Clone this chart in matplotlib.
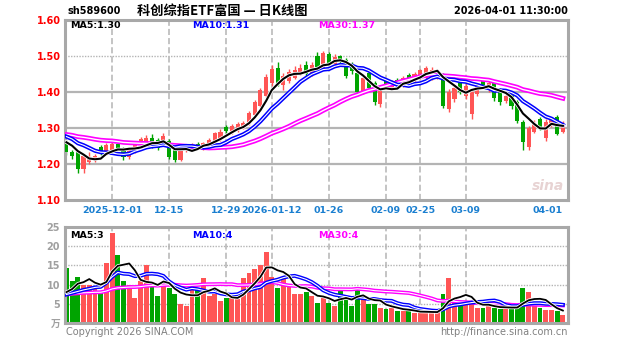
import matplotlib
matplotlib.use('Agg')
import matplotlib.pyplot as plt
import matplotlib.patheffects as pe
import numpy as np

code = "sh589600"
title = "科创综指ETF富国 — 日K线图"
timestamp = "2026-04-01 11:30:00"

opens = [1.262, 1.232, 1.236, 1.186, 1.205, 1.212, 1.248, 1.230, 1.240, 1.255,
         1.245, 1.220, 1.235, 1.252, 1.258, 1.272, 1.268, 1.255, 1.265, 1.248,
         1.212, 1.238, 1.245, 1.255, 1.246, 1.255, 1.262, 1.270, 1.302, 1.290,
         1.296, 1.305, 1.312, 1.335, 1.362, 1.390, 1.425, 1.468, 1.420, 1.430,
         1.440, 1.455, 1.475, 1.450, 1.500, 1.468, 1.505, 1.478, 1.500, 1.490,
         1.478, 1.452, 1.400, 1.452, 1.425, 1.368, 1.430, 1.412, 1.432, 1.420,
         1.448, 1.432, 1.440, 1.440, 1.438, 1.440, 1.448, 1.352, 1.380, 1.425,
         1.388, 1.340, 1.395, 1.430, 1.405, 1.425, 1.405, 1.375, 1.398, 1.372,
         1.318, 1.248, 1.290, 1.325, 1.272, 1.310, 1.330, 1.290]
highs = [1.268, 1.240, 1.240, 1.228, 1.232, 1.228, 1.252, 1.258, 1.262, 1.258,
         1.248, 1.248, 1.262, 1.275, 1.280, 1.282, 1.272, 1.285, 1.270, 1.252,
         1.255, 1.255, 1.258, 1.262, 1.262, 1.272, 1.290, 1.298, 1.308, 1.312,
         1.318, 1.320, 1.348, 1.378, 1.412, 1.450, 1.475, 1.482, 1.452, 1.465,
         1.472, 1.478, 1.485, 1.482, 1.510, 1.515, 1.512, 1.505, 1.502, 1.495,
         1.482, 1.458, 1.448, 1.458, 1.430, 1.418, 1.435, 1.432, 1.438, 1.445,
         1.452, 1.455, 1.465, 1.472, 1.470, 1.465, 1.452, 1.408, 1.418, 1.430,
         1.425, 1.412, 1.425, 1.435, 1.430, 1.430, 1.410, 1.395, 1.400, 1.378,
         1.322, 1.305, 1.322, 1.330, 1.325, 1.330, 1.335, 1.320]
lows = [1.225, 1.215, 1.176, 1.175, 1.200, 1.205, 1.225, 1.225, 1.236, 1.238,
        1.212, 1.215, 1.230, 1.248, 1.255, 1.245, 1.238, 1.250, 1.215, 1.205,
        1.208, 1.232, 1.240, 1.242, 1.240, 1.250, 1.258, 1.265, 1.285, 1.282,
        1.290, 1.298, 1.308, 1.330, 1.358, 1.385, 1.418, 1.418, 1.405, 1.425,
        1.435, 1.448, 1.442, 1.445, 1.462, 1.462, 1.475, 1.470, 1.478, 1.440,
        1.450, 1.395, 1.395, 1.408, 1.365, 1.358, 1.410, 1.408, 1.415, 1.415,
        1.428, 1.428, 1.435, 1.435, 1.432, 1.435, 1.355, 1.345, 1.372, 1.395,
        1.380, 1.325, 1.390, 1.412, 1.400, 1.375, 1.365, 1.370, 1.352, 1.315,
        1.240, 1.238, 1.285, 1.295, 1.265, 1.302, 1.280, 1.285]
closes = [1.232, 1.222, 1.185, 1.222, 1.215, 1.222, 1.230, 1.252, 1.256, 1.242,
          1.220, 1.242, 1.255, 1.270, 1.272, 1.250, 1.245, 1.278, 1.220, 1.212,
          1.250, 1.248, 1.252, 1.246, 1.258, 1.268, 1.285, 1.290, 1.292, 1.305,
          1.312, 1.315, 1.343, 1.372, 1.405, 1.442, 1.465, 1.425, 1.445, 1.455,
          1.462, 1.468, 1.450, 1.475, 1.470, 1.508, 1.480, 1.498, 1.485, 1.445,
          1.458, 1.400, 1.440, 1.412, 1.372, 1.412, 1.415, 1.428, 1.420, 1.440,
          1.432, 1.450, 1.460, 1.468, 1.462, 1.455, 1.362, 1.400, 1.410, 1.400,
          1.418, 1.400, 1.420, 1.418, 1.425, 1.382, 1.372, 1.390, 1.360, 1.320,
          1.260, 1.300, 1.315, 1.300, 1.318, 1.325, 1.282, 1.305]
volumes = [14.2, 11, 12, 10, 10, 9.5, 8.4, 15.5, 23.4, 17.6,
           11, 10, 6.6, 11, 15, 10, 7, 11, 9, 7.6,
           5, 4.5, 10, 9, 11.6, 7, 7.5, 5.8, 6.6, 6.5,
           6.3, 11.8, 13, 14, 15, 18.4, 12, 9.2, 11.8, 10,
           7.6, 7.6, 8, 7, 5.3, 6.6, 5.3, 4.5, 9.2, 7,
           4.5, 9, 6.3, 5, 5, 4, 3.7, 4, 3.2, 3.2,
           3.2, 2.6, 2.6, 3, 3, 3, 7.6, 11.6, 6.6, 5,
           5.8, 5, 4, 4, 5, 4, 3.7, 3.7, 3.7, 5,
           9.2, 8, 5.3, 4, 3.5, 3.5, 3.0, 2.2]

# closes / volumes of the 29 sessions before the visible window (MA warm-up)
prior_closes = [1.29, 1.30, 1.28, 1.29, 1.31, 1.30, 1.29, 1.28, 1.30, 1.29,
                1.27, 1.28, 1.29, 1.28, 1.27, 1.29, 1.28, 1.27, 1.26, 1.28,
                1.29, 1.30, 1.28, 1.29, 1.30, 1.27, 1.26, 1.27, 1.27]
prior_volumes = [7, 8, 6, 9, 7, 8, 6, 7, 9, 8,
                 7, 6, 8, 9, 7, 8, 7, 6, 8, 9,
                 7, 8, 6, 7, 6, 7, 5, 8, 6]

tick_idx = [8, 18, 28, 36, 46, 56, 62, 70, 87]
tick_labels = ["2025-12-01", "12-15", "12-29", "2026-01-12", "01-26",
               "02-09", "02-25", "03-09", "04-01"]
price_ticks = [1.10, 1.20, 1.30, 1.40, 1.50, 1.60]
price_tick_labels = ["1.10", "1.20", "1.30", "1.40", "1.50", "1.60"]
vol_ticks = [0, 5, 10, 15, 20, 25]
vol_tick_labels = ["万", "5", "10", "15", "20", "25"]
price_ma_labels = ["MA5:1.30", "MA10:1.31", "MA30:1.37"]
vol_ma_labels = ["MA5:3", "MA10:4", "MA30:4"]

RED = '#ff5555'
GREEN = '#00a400'
MA_COLORS = ['#000000', '#0000ff', '#ff00ff']
GRID = '#b4b4b4'
BORDER = '#a8a8a8'

plt.rcParams['font.family'] = ['DejaVu Sans', 'Noto Sans CJK SC']

def moving(prior, vals, n):
    full = np.array(list(prior) + list(vals), dtype=float)
    k = len(prior)
    return np.array([full[k + i - n + 1:k + i + 1].mean() for i in range(len(vals))])

def tube(col, outer, inner):
    return [pe.Stroke(linewidth=outer, foreground=col), pe.Stroke(linewidth=inner, foreground='white')]

o = np.array(opens); h = np.array(highs); l = np.array(lows); c = np.array(closes)
v = np.array(volumes)
x = np.arange(len(c))
up = c >= o
cols = np.where(up, RED, GREEN)

W, H = 627, 342
fig = plt.figure(figsize=(W / 100, H / 100), dpi=100)
fig.patch.set_facecolor('white')

def rect(l_, t_, r_, b_):
    return [l_ / W, 1 - b_ / H, (r_ - l_) / W, (b_ - t_) / H]

axp = fig.add_axes(rect(65, 20, 568, 200))
axv = fig.add_axes(rect(65, 227, 568, 323))

xl = (-0.25, 87.9)
for ax in (axp, axv):
    ax.set_xlim(*xl)
    for s in ax.spines.values():
        s.set_color(BORDER)
        s.set_linewidth(2.2)
    for t in tick_idx[:-1]:
        ax.axvline(t, color=GRID, lw=1.1, ls=(0, (4, 2)), zorder=0)
    ax.tick_params(length=0)

# price panel
axp.set_ylim(1.10, 1.60)
for yv in [1.20, 1.30, 1.40]:
    axp.axhline(yv, color=GRID, lw=1.6, zorder=0)
axp.axhline(1.50, color=GRID, lw=1.0, ls=(0, (1, 1)), zorder=0)
body_b = np.minimum(o, c)
body_h = np.maximum(np.abs(c - o), 0.002)
axp.vlines(x, l, h, colors=cols, lw=1.0, zorder=2)
axp.bar(x, body_h, bottom=body_b, width=0.72, color=cols, zorder=3, linewidth=0)
ma_p = [moving(prior_closes, c, n) for n in (5, 10, 30)]
axp.plot(x, ma_p[2], color='white', lw=1.0, zorder=4, path_effects=tube(MA_COLORS[2], 3.4, 1.0))
axp.plot(x, ma_p[1], color='white', lw=0.8, zorder=5, path_effects=tube(MA_COLORS[1], 3.0, 0.8))
axp.plot(x, ma_p[0], color=MA_COLORS[0], lw=1.5, zorder=6,
         path_effects=[pe.Stroke(linewidth=2.6, foreground='white'), pe.Normal()])
axp.set_yticks(price_ticks)
axp.set_yticklabels(price_tick_labels, color='#ff0000', fontsize=7, fontweight='bold')
axp.tick_params(axis='y', pad=3)
axp.set_xticks(tick_idx)
axp.set_xticklabels(tick_labels, color='#1a7fd0', fontsize=6.8, fontweight='bold')
axp.tick_params(axis='x', pad=4)
lbls = axp.get_xticklabels()
lbls[-1].set_ha('right')

for txt, col, px in zip(price_ma_labels, MA_COLORS, [70, 192, 318]):
    fig.text(px / W, 1 - 26 / H, txt, color=col, fontsize=6.8, fontweight='bold',
             va='center', ha='left')

fig.text(548 / W, 1 - 186 / H, "sina", color='#e2c8c8', fontsize=10,
         fontweight='bold', style='italic', ha='center', va='center', alpha=0.8)

# volume panel
axv.set_ylim(0, 25)
for yv in [5, 10, 15, 20]:
    axv.axhline(yv, color=GRID, lw=1.0, ls=(0, (1, 1)), zorder=0)
axv.bar(x, v, width=0.85, color=cols, linewidth=0, zorder=2)
ma_v = [moving(prior_volumes, v, n) for n in (5, 10, 30)]
axv.plot(x, ma_v[2], color='white', lw=0.8, zorder=4, path_effects=tube(MA_COLORS[2], 2.8, 0.8))
axv.plot(x, ma_v[1], color='white', lw=0.8, zorder=5, path_effects=tube(MA_COLORS[1], 2.8, 0.8))
axv.plot(x, ma_v[0], color=MA_COLORS[0], lw=1.3, zorder=6,
         path_effects=[pe.Stroke(linewidth=2.4, foreground='white'), pe.Normal()])
axv.set_yticks(vol_ticks)
axv.set_yticklabels(vol_tick_labels, color='#a0a0a0', fontsize=7, fontweight='bold')
axv.set_xticks([])
for txt, col, px in zip(vol_ma_labels, MA_COLORS, [70, 192, 318]):
    fig.text(px / W, 1 - 235 / H, txt, color=col, fontsize=6.8, fontweight='bold',
             va='center', ha='left')

# header
fig.text(67 / W, 1 - 11 / H, code, fontsize=7, fontweight='bold', color='black',
         va='center', ha='left')
fig.text(222 / W, 1 - 11 / H, title, fontsize=9.5, fontweight='bold', color='black',
         va='center', ha='center', family=['Noto Sans CJK SC', 'DejaVu Sans'])
fig.text(568 / W, 1 - 11 / H, timestamp, fontsize=7, fontweight='bold', color='black',
         va='center', ha='right')

# footer
fig.text(66 / W, 1 - 332 / H, "Copyright 2026 SINA.COM", fontsize=7, color='#808080',
         va='center', ha='left')
fig.text(568 / W, 1 - 332 / H, "http://finance.sina.com.cn", fontsize=7, color='#808080',
         va='center', ha='right')

fig.savefig('out.png', dpi=100, facecolor='white')
